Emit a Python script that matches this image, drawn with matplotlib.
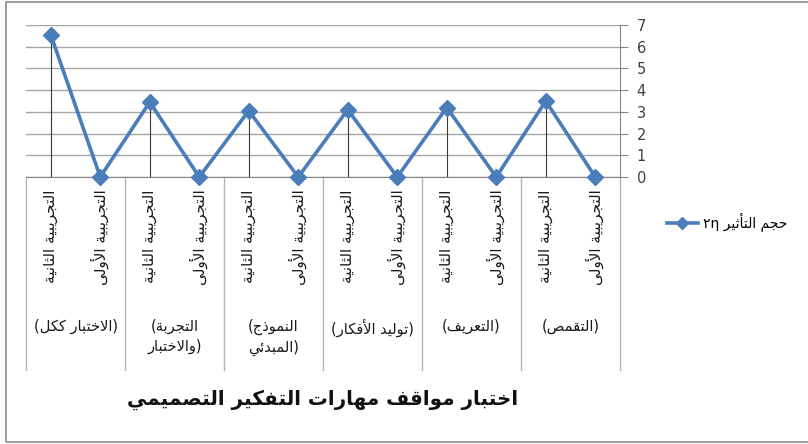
import matplotlib.pyplot as plt
from matplotlib.patches import Rectangle

plt.rcParams['font.family'] = ['DejaVu Sans']

# skill groups, first one drawn at the right (right-to-left category axis)
groups = ["(التقمص)", "(التعريف)", "(توليد الأفكار)",
          "(النموذج\nالمبدئي)", "(التجربة\nوالاختبار)", "(الاختبار ككل)"]
sub_labels = ["التجريبية الأولى", "التجريبية الثانية"]
first_exp = [0, 0, 0, 0, 0, 0]
second_exp = [3.5, 3.2, 3.1, 3.05, 3.45, 6.55]
series_name = "حجم التأثير"
title = "اختبار مواقف مهارات التفكير التصميمي"

# presentation forms: (first code point, number of forms)
# forms are ordered isolated, final, initial, medial
FORMS = {
    'ء': (0xFE80, 1), 'آ': (0xFE81, 2), 'أ': (0xFE83, 2), 'ؤ': (0xFE85, 2),
    'إ': (0xFE87, 2), 'ئ': (0xFE89, 4), 'ا': (0xFE8D, 2), 'ب': (0xFE8F, 4),
    'ة': (0xFE93, 2), 'ت': (0xFE95, 4), 'ث': (0xFE99, 4), 'ج': (0xFE9D, 4),
    'ح': (0xFEA1, 4), 'خ': (0xFEA5, 4), 'د': (0xFEA9, 2), 'ذ': (0xFEAB, 2),
    'ر': (0xFEAD, 2), 'ز': (0xFEAF, 2), 'س': (0xFEB1, 4), 'ش': (0xFEB5, 4),
    'ص': (0xFEB9, 4), 'ض': (0xFEBD, 4), 'ط': (0xFEC1, 4), 'ظ': (0xFEC5, 4),
    'ع': (0xFEC9, 4), 'غ': (0xFECD, 4), 'ف': (0xFED1, 4), 'ق': (0xFED5, 4),
    'ك': (0xFED9, 4), 'ل': (0xFEDD, 4), 'م': (0xFEE1, 4), 'ن': (0xFEE5, 4),
    'ه': (0xFEE9, 4), 'و': (0xFEED, 2), 'ى': (0xFEEF, 2), 'ي': (0xFEF1, 4),
    'لآ': (0xFEF5, 2), 'لأ': (0xFEF7, 2), 'لإ': (0xFEF9, 2), 'لا': (0xFEFB, 2),
}


def shape(s):
    letters = []
    i = 0
    while i < len(s):
        if s[i:i + 2] in FORMS and len(s[i:i + 2]) == 2:
            letters.append(s[i:i + 2])
            i += 2
        else:
            letters.append(s[i])
            i += 1
    out = []
    for k, ch in enumerate(letters):
        if ch not in FORMS:
            out.append(ch)
            continue
        base, n = FORMS[ch]
        prev = letters[k - 1] if k > 0 else None
        nxt = letters[k + 1] if k + 1 < len(letters) else None
        join_prev = n > 1 and prev in FORMS and FORMS[prev][1] == 4
        join_next = n == 4 and nxt in FORMS
        if join_prev and join_next:
            off = 3
        elif join_prev:
            off = 1
        elif join_next:
            off = 2
        else:
            off = 0
        out.append(chr(base + off))
    return ''.join(out)


def ar(text):
    lines = []
    for line in text.split('\n'):
        lead = '(' if line.startswith('(') else ''
        tail = ')' if line.endswith(')') else ''
        core = line.strip('()')
        lines.append(lead + shape(core)[::-1] + tail)
    return '\n'.join(lines)


# interleave the two experiments per group
values = []
cat_labels = []
for a, b in zip(first_exp, second_exp):
    values += [a, b]
    cat_labels += sub_labels
x = list(range(len(values)))

fig = plt.figure(figsize=(8.08, 4.44), dpi=100)
fig.patches.append(Rectangle((6 / 808, 2 / 444), 1.0, 440 / 444, transform=fig.transFigure,
                             fill=False, edgecolor='#8c8c8c', linewidth=1.2))

ax = fig.add_axes((26 / 808, 1 - 177 / 444, 594 / 808, 152 / 444))
line_color = '#4a7ebb'
grid_color = '#a6a6a6'

ax.set_xlim(len(values) - 0.5, -0.5)
ax.set_ylim(0, 7)
ax.set_yticks(range(0, 8))
ax.yaxis.tick_right()
ax.tick_params(axis='y', length=6, color='#868686', labelcolor='#404040', labelsize=10.5, pad=6)
ax.set_xticks([])
for side in ('top', 'left'):
    ax.spines[side].set_visible(False)
for side in ('right', 'bottom'):
    ax.spines[side].set_color('#868686')
ax.grid(axis='y', color=grid_color, linewidth=1)
ax.set_axisbelow(True)

# drop lines from each point down to the axis
ax.vlines(x, 0, values, color='#3a3a3a', linewidth=0.8, zorder=2)
ax.plot(x, values, color=line_color, linewidth=2.6, marker='D', markersize=8,
        zorder=3, clip_on=False)

# category table below the plot
xt = ax.get_xaxis_transform()
bottom = -(370 - 177) / 152
for b in range(0, len(values) + 1, 2):
    ax.plot([b - 0.5, b - 0.5], [0, bottom], transform=xt, color='#b4b4b4',
            linewidth=1, clip_on=False)
for xi, lab in zip(x, cat_labels):
    ax.text(xi, -0.08, ar(lab), transform=xt, rotation=90, ha='center', va='top',
            fontsize=11, color='#1a1a1a')
for gi, g in enumerate(groups):
    ax.text(2 * gi + 0.5, -0.93, ar(g), transform=xt, ha='center', va='top',
            fontsize=10.5, color='#1a1a1a', linespacing=1.4)

fig.text(323 / 808, 1 - 400 / 444, ar(title), ha='center', va='center',
         fontsize=14.3, fontweight='bold', color='#111111')

# legend
h, = ax.plot([], [], color=line_color, linewidth=2.6, marker='D', markersize=6)
fig.legend([h], ['٢η ' + ar(series_name)], loc='center left',
           bbox_to_anchor=(660 / 808, 1 - 222 / 444), frameon=False, fontsize=10,
           handlelength=2.2, borderpad=0, handletextpad=0.4)

fig.savefig('out.png', dpi=100)
